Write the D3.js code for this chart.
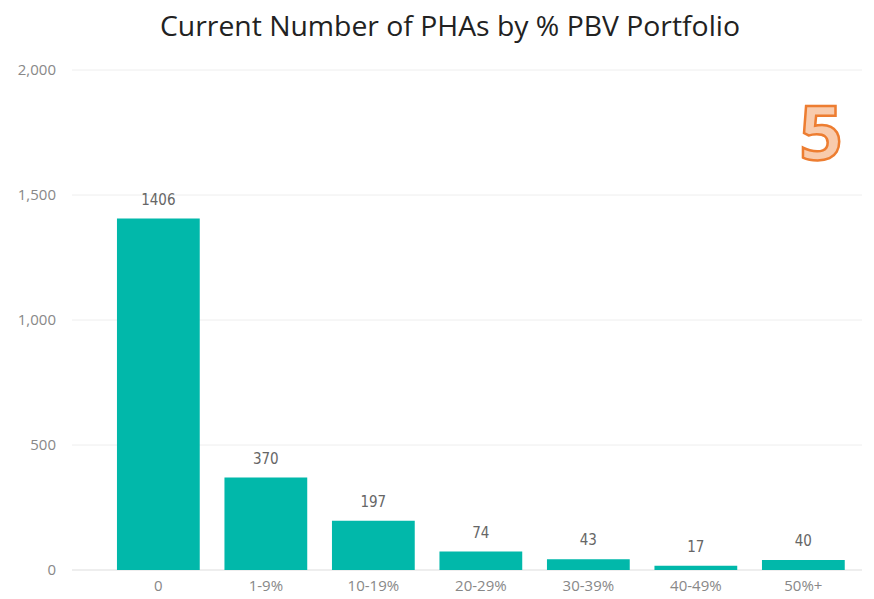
<!DOCTYPE html>
<html><head><meta charset="utf-8">
<script src="https://cdn.jsdelivr.net/npm/d3@7"></script>
<style>body{margin:0;background:#fff;}svg{display:block;}</style>
</head><body>
<svg id="c" width="874" height="599"></svg>
<script>
const categories = ["0","1-9%","10-19%","20-29%","30-39%","40-49%","50%+"];
const values = [1406,370,197,74,43,17,40];
const yTicks = [0,500,1000,1500,2000];
const title = "Current Number of PHAs by % PBV Portfolio";
const badge = "5";

const svg = d3.select("#c");
const x = d3.scaleBand().domain(categories).range([104.6,857.1]).paddingInner(0.23).paddingOuter(0.115);
const y = d3.scaleLinear().domain([0,2000]).range([570,70]);

svg.append("text").attr("x",450).attr("y",36).attr("text-anchor","middle")
  .attr("font-family","'Open Sans', sans-serif").attr("font-size",26.5).attr("fill","#222")
  .attr("textLength",580).attr("lengthAdjust","spacingAndGlyphs").text(title);

const gy = svg.append("g");
yTicks.forEach(t=>{
  gy.append("line").attr("x1",72).attr("x2",862).attr("y1",y(t)).attr("y2",y(t))
    .attr("stroke",t===0?"#ddd":"#eee").attr("stroke-width",1);
  gy.append("text").attr("x",56).attr("y",y(t)+5).attr("text-anchor","end")
    .attr("font-family","'Open Sans', sans-serif").attr("font-size",15).attr("fill","#888")
    .text(d3.format(",")(t));
});

svg.selectAll("rect.bar").data(values).join("rect").attr("class","bar")
  .attr("x",(d,i)=>x(categories[i])).attr("width",x.bandwidth())
  .attr("y",d=>y(d)).attr("height",d=>y(0)-y(d)).attr("fill","#01B8AA");

svg.selectAll("text.lbl").data(values).join("text").attr("class","lbl")
  .attr("x",(d,i)=>x(categories[i])+x.bandwidth()/2).attr("y",d=>y(d)-14)
  .attr("text-anchor","middle").attr("font-family","'DejaVu Sans Condensed', 'DejaVu Sans', sans-serif")
  .attr("font-size",15).attr("fill","#666").text(d=>d);

const xa = d3.axisBottom(x).tickSize(0).tickPadding(10);
const gx = svg.append("g").attr("transform","translate(0,570)").call(xa);
gx.select(".domain").remove();
gx.selectAll("text").attr("font-family","'Open Sans', sans-serif").attr("font-size",15).attr("fill","#888");

svg.append("text").attr("x",821).attr("y",160).attr("text-anchor","middle")
  .attr("font-family","'Open Sans', sans-serif").attr("font-weight",700).attr("font-size",76)
  .attr("fill","#F8CBAD").attr("stroke","#ED7D31").attr("stroke-width",2.5).text(badge);
</script>
</body></html>
